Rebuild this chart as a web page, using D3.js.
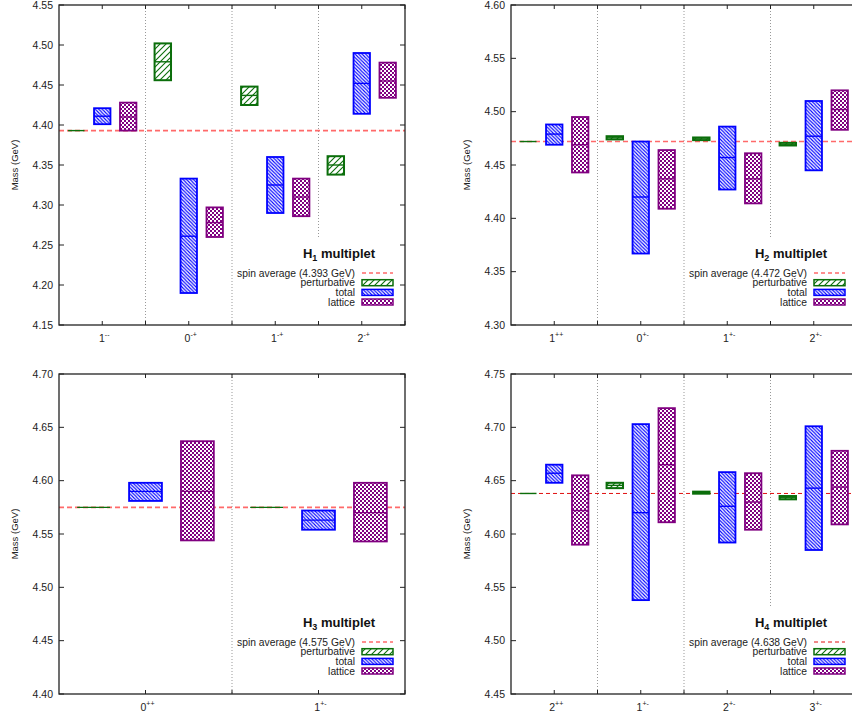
<!DOCTYPE html>
<html>
<head>
<meta charset="utf-8">
<script src="https://cdn.jsdelivr.net/npm/d3@7"></script>
<style>
  body { margin: 0; background: #fff; }
  text { font-family: "Liberation Sans", Arial, sans-serif; }
</style>
</head>
<body>
<div id="chart"></div>
<script>
// values: [central, low, high] in GeV
const catsH1 = ['1--', '0-+', '1-+', '2-+'];
const pertH1 = [[4.393, 4.393, 4.393], [4.479, 4.456, 4.502], [4.437, 4.425, 4.448], [4.350, 4.338, 4.361]];
const totalH1 = [[4.411, 4.401, 4.421], [4.261, 4.190, 4.333], [4.325, 4.290, 4.360], [4.452, 4.414, 4.490]];
const latH1 = [[4.410, 4.393, 4.428], [4.278, 4.260, 4.297], [4.310, 4.286, 4.333], [4.455, 4.434, 4.478]];
const spinH1 = 4.393;

const catsH2 = ['1++', '0+-', '1+-', '2+-'];
const pertH2 = [[4.472, 4.472, 4.472], [4.4755, 4.474, 4.477], [4.4745, 4.4733, 4.4758], [4.4695, 4.4683, 4.4708]];
const totalH2 = [[4.479, 4.469, 4.488], [4.420, 4.367, 4.472], [4.457, 4.427, 4.486], [4.477, 4.445, 4.510]];
const latH2 = [[4.469, 4.443, 4.495], [4.437, 4.409, 4.464], [4.437, 4.414, 4.461], [4.502, 4.483, 4.520]];
const spinH2 = 4.472;

const catsH3 = ['0++', '1+-'];
const pertH3 = [[4.575, 4.575, 4.575], [4.575, 4.575, 4.575]];
const totalH3 = [[4.590, 4.581, 4.598], [4.563, 4.554, 4.572]];
const latH3 = [[4.590, 4.544, 4.637], [4.570, 4.543, 4.598]];
const spinH3 = 4.575;

const catsH4 = ['2++', '1+-', '2+-', '3+-'];
const pertH4 = [[4.638, 4.638, 4.638], [4.6456, 4.643, 4.648], [4.6388, 4.6378, 4.6397], [4.634, 4.6325, 4.6356]];
const totalH4 = [[4.657, 4.648, 4.665], [4.620, 4.538, 4.703], [4.626, 4.592, 4.658], [4.643, 4.585, 4.701]];
const latH4 = [[4.622, 4.590, 4.655], [4.665, 4.611, 4.718], [4.630, 4.604, 4.657], [4.644, 4.609, 4.678]];
const spinH4 = 4.638;

const panels = [
  { sub: '1', cats: catsH1, pert: pertH1, total: totalH1, lat: latH1, spin: spinH1, y: [4.15, 4.55], left: 59, top: 5, dark: false },
  { sub: '2', cats: catsH2, pert: pertH2, total: totalH2, lat: latH2, spin: spinH2, y: [4.30, 4.60], left: 511, top: 5, dark: false },
  { sub: '3', cats: catsH3, pert: pertH3, total: totalH3, lat: latH3, spin: spinH3, y: [4.40, 4.70], left: 59, top: 374, dark: false },
  { sub: '4', cats: catsH4, pert: pertH4, total: totalH4, lat: latH4, spin: spinH4, y: [4.45, 4.75], left: 511, top: 374, dark: true },
];

const W = 852, H = 713;
const pw = 346, ph = 320;
const green = '#0b6e0b', blue = '#0000ff', purple = '#800080';

const svg = d3.select('#chart').append('svg')
  .attr('width', W).attr('height', H);

// fill patterns
const defs = svg.append('defs');
const pg = defs.append('pattern').attr('id', 'hatchGreen').attr('patternUnits', 'userSpaceOnUse')
  .attr('width', 6).attr('height', 6);
pg.append('rect').attr('width', 6).attr('height', 6).attr('fill', '#fff');
pg.append('path').attr('d', 'M-1,7 L7,-1 M-4,4 L4,-4 M2,10 L10,2').attr('stroke', green).attr('stroke-width', 1.1);

const pb = defs.append('pattern').attr('id', 'hatchBlue').attr('patternUnits', 'userSpaceOnUse')
  .attr('width', 3.5).attr('height', 3.5);
pb.append('rect').attr('width', 3.5).attr('height', 3.5).attr('fill', '#fff');
pb.append('path').attr('d', 'M-1,-1 L4.5,4.5 M-1,2.5 L1,4.5 M2.5,-1 L4.5,1').attr('stroke', blue).attr('stroke-width', 1.1);

const pp = defs.append('pattern').attr('id', 'checkPurple').attr('patternUnits', 'userSpaceOnUse')
  .attr('width', 4).attr('height', 4);
pp.append('rect').attr('width', 4).attr('height', 4).attr('fill', '#fff');
pp.append('rect').attr('width', 2).attr('height', 2).attr('fill', purple);
pp.append('rect').attr('x', 2).attr('y', 2).attr('width', 2).attr('height', 2).attr('fill', purple);

const series = [
  { key: 'pert', label: 'perturbative', off: -0.3, color: green, fill: 'url(#hatchGreen)', sw: 2 },
  { key: 'total', label: 'total', off: 0, color: blue, fill: 'url(#hatchBlue)', sw: 1.8 },
  { key: 'lat', label: 'lattice', off: 0.3, color: purple, fill: 'url(#checkPurple)', sw: 1.8 },
];
const boxW = 0.19;

panels.forEach(p => {
  const n = p.cats.length;
  const x = d3.scaleLinear().domain([-0.5, n - 0.5]).range([p.left, p.left + pw]);
  const y = d3.scaleLinear().domain(p.y).range([p.top + ph, p.top]);
  const right = p.left + pw, bottom = p.top + ph;
  const g = svg.append('g');

  // dotted dividers between multiplet members
  g.selectAll('.div').data(d3.range(0.5, n - 0.5, 1)).join('line')
    .attr('x1', d => x(d)).attr('x2', d => x(d))
    .attr('y1', p.top).attr('y2', bottom)
    .attr('stroke', '#999').attr('stroke-width', 1).attr('stroke-dasharray', '1,2');

  // key background
  g.append('rect').attr('x', right - 170).attr('y', bottom - 86)
    .attr('width', 168).attr('height', 84).attr('fill', '#fff');

  // spin average line
  g.append('line').attr('x1', p.left).attr('x2', right)
    .attr('y1', y(p.spin)).attr('y2', y(p.spin))
    .attr('stroke', p.dark ? '#e01010' : '#ff6a6a')
    .attr('stroke-width', p.dark ? 1 : 1.6)
    .attr('stroke-dasharray', p.dark ? '4,3' : '5,3');

  // boxes
  series.forEach(s => {
    const data = p[s.key].map((v, i) => ({ i, c: v[0], lo: v[1], hi: v[2] }));
    const bg = g.append('g');
    bg.selectAll('rect').data(data).join('rect')
      .attr('x', d => x(d.i + s.off - boxW / 2))
      .attr('width', d => x(d.i + s.off + boxW / 2) - x(d.i + s.off - boxW / 2))
      .attr('y', d => y(d.hi))
      .attr('height', d => y(d.lo) - y(d.hi))
      .attr('fill', s.fill)
      .attr('stroke', s.color).attr('stroke-width', s.sw);
    bg.selectAll('line').data(data).join('line')
      .attr('x1', d => x(d.i + s.off - boxW / 2))
      .attr('x2', d => x(d.i + s.off + boxW / 2))
      .attr('y1', d => y(d.c)).attr('y2', d => y(d.c))
      .attr('stroke', s.color).attr('stroke-width', 1.4);
  });

  // frame
  g.append('rect').attr('x', p.left).attr('y', p.top).attr('width', pw).attr('height', ph)
    .attr('fill', 'none').attr('stroke', '#222').attr('stroke-width', 1.3);

  // y ticks (both sides, inward)
  const yt = d3.range(Math.round(p.y[0] * 100), Math.round(p.y[1] * 100) + 1, 5).map(v => v / 100);
  g.selectAll('.yl').data(yt).join('line')
    .attr('x1', p.left).attr('x2', p.left + 5)
    .attr('y1', d => y(d)).attr('y2', d => y(d)).attr('stroke', '#222');
  g.selectAll('.yr').data(yt).join('line')
    .attr('x1', right - 5).attr('x2', right)
    .attr('y1', d => y(d)).attr('y2', d => y(d)).attr('stroke', '#222');
  g.selectAll('.ytl').data(yt).join('text')
    .attr('x', p.left - 6).attr('y', d => y(d) + 3.7)
    .attr('text-anchor', 'end').attr('font-size', 10.5).attr('fill', '#222')
    .text(d3.format('.2f'));

  // x ticks at centres and dividers, top and bottom
  const xt = d3.range(0, n - 0.25, 0.5);
  g.selectAll('.xb').data(xt).join('line')
    .attr('x1', d => x(d)).attr('x2', d => x(d))
    .attr('y1', bottom).attr('y2', bottom - 4).attr('stroke', '#222');
  g.selectAll('.xtp').data(xt).join('line')
    .attr('x1', d => x(d)).attr('x2', d => x(d))
    .attr('y1', p.top).attr('y2', p.top + 4).attr('stroke', '#222');

  const xl = g.selectAll('.xtl').data(p.cats).join('text')
    .attr('x', (d, i) => x(i) + 2).attr('y', bottom + 17)
    .attr('text-anchor', 'middle').attr('font-size', 10.5).attr('fill', '#222');
  xl.append('tspan').text(d => d[0]);
  xl.append('tspan').attr('font-size', 7).attr('dy', -5).text(d => d.slice(1));

  // axis title
  g.append('text')
    .attr('transform', `translate(${p.left - 41},${p.top + ph / 2}) rotate(-90)`)
    .attr('text-anchor', 'middle').attr('font-size', 9.5).attr('fill', '#222')
    .text('Mass (GeV)');

  // key
  const title = g.append('text').attr('x', right - 66).attr('y', bottom - 67)
    .attr('text-anchor', 'middle').attr('font-size', 13).attr('font-weight', 'bold').attr('fill', '#111');
  title.append('tspan').text('H');
  title.append('tspan').attr('font-size', 9).attr('dy', 3).text(p.sub);
  title.append('tspan').attr('dy', -3).text(' multiplet');

  const rowY = [bottom - 52, bottom - 42.3, bottom - 32.6, bottom - 23];
  g.append('text').attr('x', right - 50).attr('y', rowY[0] + 3.6)
    .attr('text-anchor', 'end').attr('font-size', 10.3).attr('fill', '#222')
    .text(`spin average (${d3.format('.3f')(p.spin)} GeV)`);
  g.append('line').attr('x1', right - 43).attr('x2', right - 12)
    .attr('y1', rowY[0]).attr('y2', rowY[0])
    .attr('stroke', p.dark ? '#e01010' : '#ff6a6a').attr('stroke-width', p.dark ? 1 : 1.3)
    .attr('stroke-dasharray', '4,3');
  series.forEach((s, k) => {
    const yy = rowY[k + 1];
    g.append('text').attr('x', right - 50).attr('y', yy + 3.6)
      .attr('text-anchor', 'end').attr('font-size', 10.3).attr('fill', '#222')
      .text(s.label);
    g.append('rect').attr('x', right - 43).attr('y', yy - 3).attr('width', 31).attr('height', 6)
      .attr('fill', s.fill).attr('stroke', s.color).attr('stroke-width', 1.5);
  });
});
</script>
</body>
</html>
